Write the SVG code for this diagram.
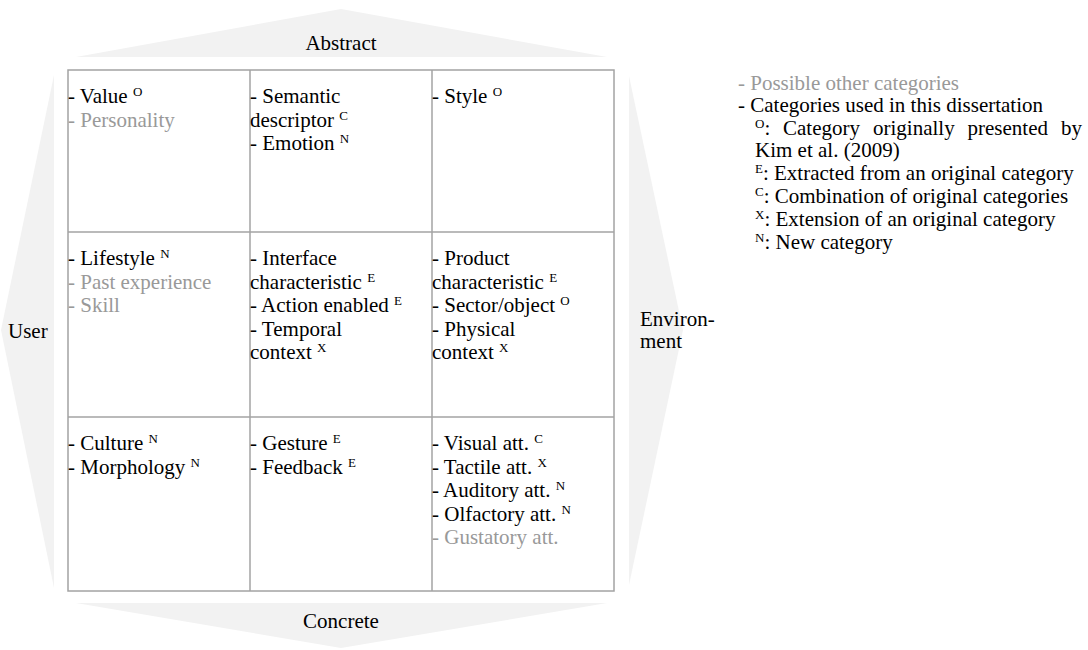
<svg xmlns="http://www.w3.org/2000/svg" width="1088" height="650" viewBox="0 0 1088 650">
<style>
text{font-family:"Liberation Serif","Times New Roman",serif;font-size:21px;fill:#000}
.g{fill:#999}
.sup{font-size:13px}
.arrow{fill:#f2f2f2;stroke:none}
.grid{fill:none;stroke:#a3a3a3;stroke-width:1.5}
</style>
<rect width="1088" height="650" fill="#fff"/>
<g id="direction-arrows">
<polygon class="arrow" points="76,57 341,9 607,57"/>
<polygon class="arrow" points="76,603 607,603 341,648"/>
<polygon class="arrow" points="54,75 54,588 1,330"/>
<polygon class="arrow" points="629,76 629,585 683,330"/>
</g>
<g id="axis-labels">
<text x="341" y="50" text-anchor="middle">Abstract</text>
<text x="341" y="628" text-anchor="middle">Concrete</text>
<text x="8" y="338">User</text>
<text x="640" y="326">Environ-</text>
<text x="640" y="348">ment</text>
</g>
<g id="grid">
<rect class="grid" x="68" y="70" width="546" height="521"/>
<line class="grid" x1="250" y1="70" x2="250" y2="591"/>
<line class="grid" x1="432" y1="70" x2="432" y2="591"/>
<line class="grid" x1="68" y1="232" x2="614" y2="232"/>
<line class="grid" x1="68" y1="417" x2="614" y2="417"/>
</g>
<g id="cell-user-abstract">
<text x="68" y="103">- Value <tspan class="sup" dy="-7">O</tspan></text>
<text x="68" y="126.5" class="g">- Personality</text>
</g>
<g id="cell-interaction-abstract">
<text x="250" y="103">- Semantic</text>
<text x="250" y="126.5">descriptor <tspan class="sup" dy="-7">C</tspan></text>
<text x="250" y="150">- Emotion <tspan class="sup" dy="-7">N</tspan></text>
</g>
<g id="cell-environment-abstract">
<text x="432" y="103">- Style <tspan class="sup" dy="-7">O</tspan></text>
</g>
<g id="cell-user-middle">
<text x="68" y="265">- Lifestyle <tspan class="sup" dy="-7">N</tspan></text>
<text x="68" y="288.5" class="g">- Past experience</text>
<text x="68" y="312" class="g">- Skill</text>
</g>
<g id="cell-interaction-middle">
<text x="250" y="265">- Interface</text>
<text x="250" y="288.5">characteristic <tspan class="sup" dy="-7">E</tspan></text>
<text x="250" y="312">- Action enabled <tspan class="sup" dy="-7">E</tspan></text>
<text x="250" y="335.5">- Temporal</text>
<text x="250" y="359">context <tspan class="sup" dy="-7">X</tspan></text>
</g>
<g id="cell-environment-middle">
<text x="432" y="265">- Product</text>
<text x="432" y="288.5">characteristic <tspan class="sup" dy="-7">E</tspan></text>
<text x="432" y="312">- Sector/object <tspan class="sup" dy="-7">O</tspan></text>
<text x="432" y="335.5">- Physical</text>
<text x="432" y="359">context <tspan class="sup" dy="-7">X</tspan></text>
</g>
<g id="cell-user-concrete">
<text x="68" y="450">- Culture <tspan class="sup" dy="-7">N</tspan></text>
<text x="68" y="473.5">- Morphology <tspan class="sup" dy="-7">N</tspan></text>
</g>
<g id="cell-interaction-concrete">
<text x="250" y="450">- Gesture <tspan class="sup" dy="-7">E</tspan></text>
<text x="250" y="473.5">- Feedback <tspan class="sup" dy="-7">E</tspan></text>
</g>
<g id="cell-environment-concrete">
<text x="432" y="450">- Visual att. <tspan class="sup" dy="-7">C</tspan></text>
<text x="432" y="473.5">- Tactile att. <tspan class="sup" dy="-7">X</tspan></text>
<text x="432" y="497">- Auditory att. <tspan class="sup" dy="-7">N</tspan></text>
<text x="432" y="520.5">- Olfactory att. <tspan class="sup" dy="-7">N</tspan></text>
<text x="432" y="544" class="g">- Gustatory att.</text>
</g>
<g id="legend">
<text class="g" x="738" y="90">- Possible other categories</text>
<text x="738" y="112">- Categories used in this dissertation</text>
<text x="755" y="135"><tspan class="sup" dy="-7">O</tspan><tspan dy="7">:</tspan></text>
<text x="783" y="135">Category</text>
<text x="873" y="135">originally</text>
<text x="967.5" y="135">presented</text>
<text x="1061" y="135">by</text>
<text x="755" y="157">Kim et al. (2009)</text>
<text x="755" y="180"><tspan class="sup" dy="-7">E</tspan><tspan dy="7">: Extracted from an original category</tspan></text>
<text x="755" y="203"><tspan class="sup" dy="-7">C</tspan><tspan dy="7">: Combination of original categories</tspan></text>
<text x="755" y="226"><tspan class="sup" dy="-7">X</tspan><tspan dy="7">: Extension of an original category</tspan></text>
<text x="755" y="249"><tspan class="sup" dy="-7">N</tspan><tspan dy="7">: New category</tspan></text>
</g>
</svg>
